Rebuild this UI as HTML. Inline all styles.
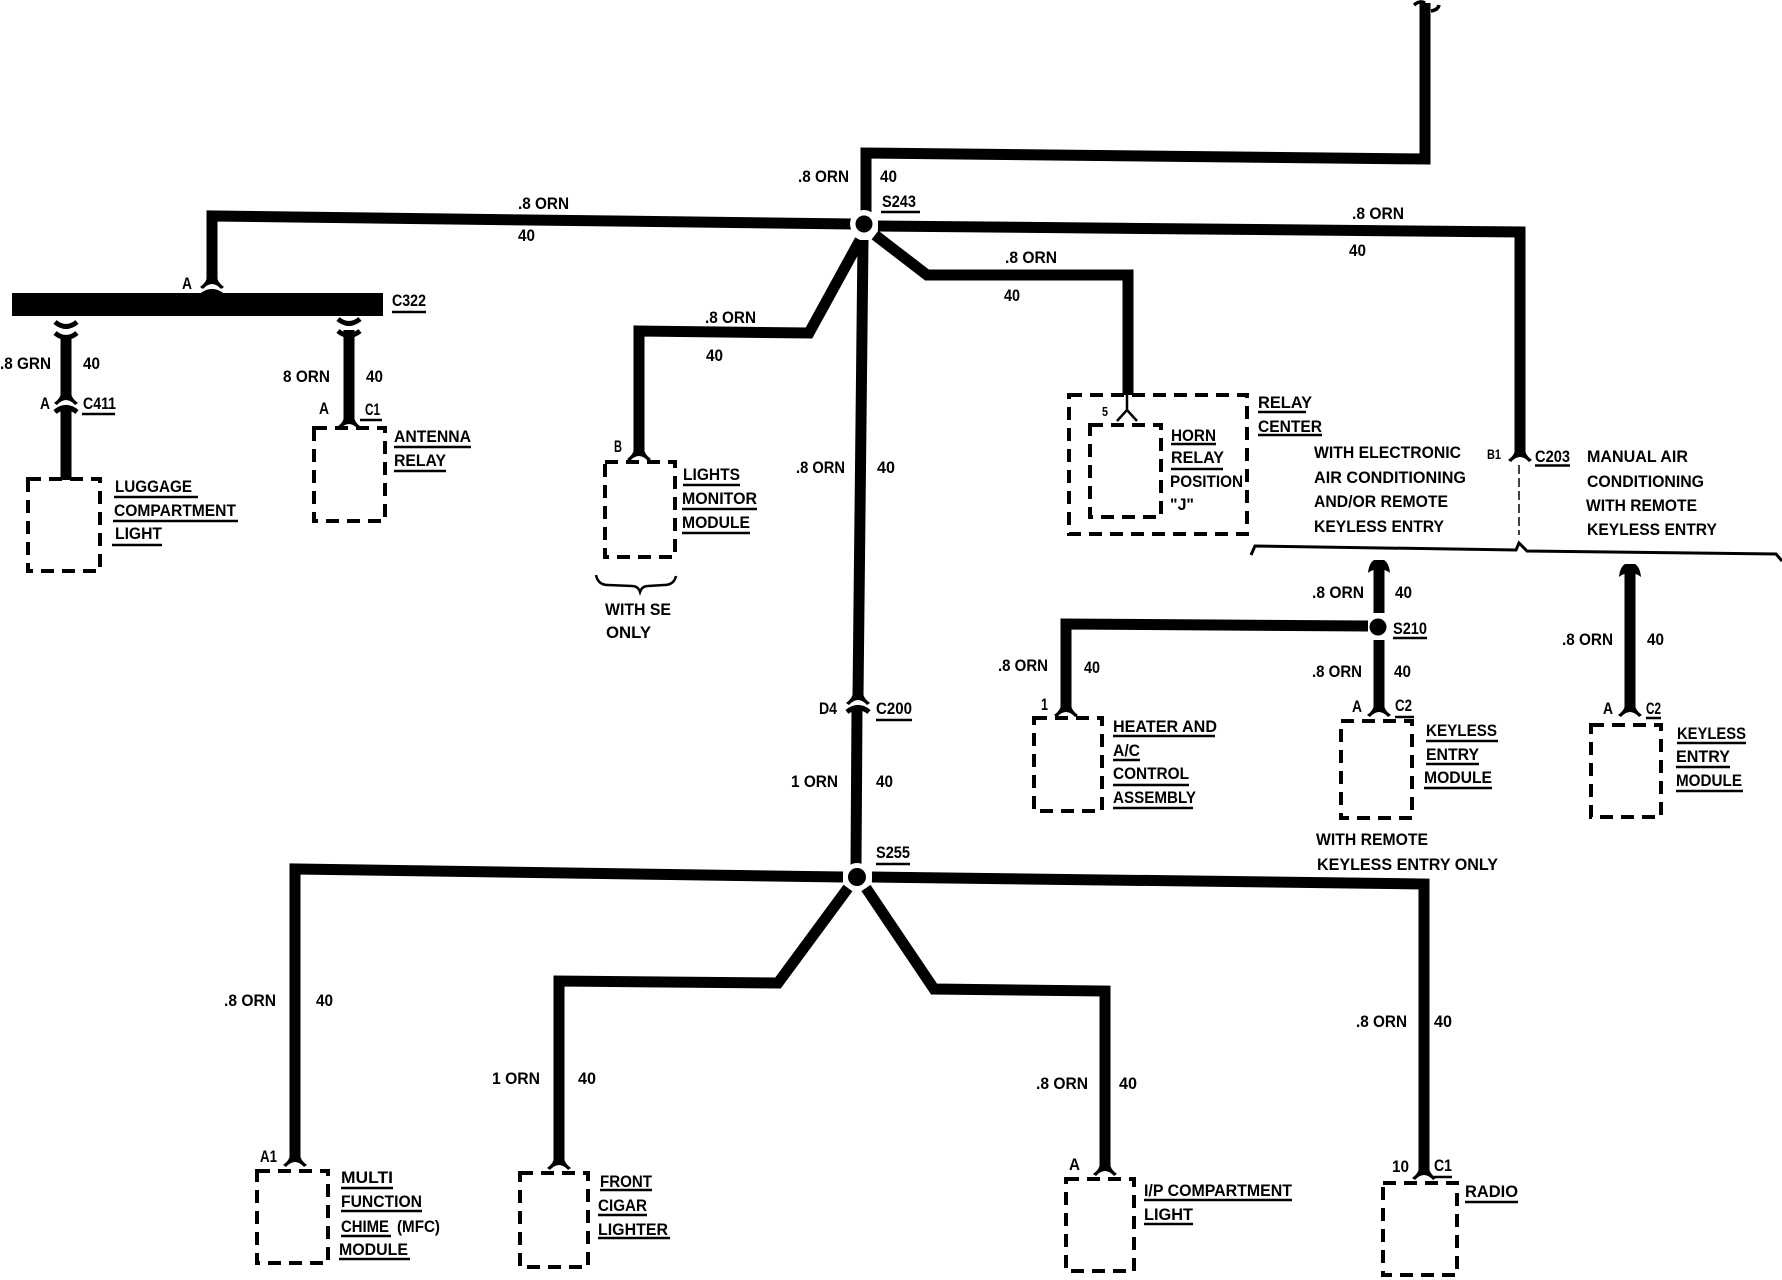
<!DOCTYPE html>
<html><head><meta charset="utf-8"><style>
html,body{margin:0;padding:0;background:#fff}
svg{display:block}
text{font-family:"Liberation Sans",sans-serif;font-weight:bold;font-size:17px;fill:#000}
.w{fill:none;stroke:#000;stroke-width:11;stroke-linejoin:miter}
.b{fill:none;stroke:#000;stroke-width:4;stroke-dasharray:13 8}
.u{fill:none;stroke:#000;stroke-width:2.5}
.a{fill:none;stroke:#000;stroke-width:5}
</style></head><body>
<svg width="1782" height="1280" viewBox="0 0 1782 1280" xmlns="http://www.w3.org/2000/svg">
<defs>
<path id="f" d="M-12 2Q-5-3-5-9L5-9Q5-3 12 2L9 4Q0-6-9 4Z"/>
<path id="c" d="M-11 13Q-10 3-5 0L5 0Q10 3 11 13Q6 9 0 9Q-6 9-11 13Z"/>
<path id="s" class="a" d="M-11 0Q0 9 11 0"/>
<path id="n" class="a" d="M-11 0Q0-9 11 0"/>
</defs>

<!-- wires -->
<path class="w" d="M1425 3L1425 159L866 153L866 212"/>
<path class="w" d="M853 224L212 216L212 279"/>
<path class="w" d="M878 226L1520 232L1520 452"/>
<path class="w" d="M875 235L927 275L1128 275L1128 395"/>
<path class="w" d="M860 240L809 333L639 331L639 452"/>
<path class="w" d="M863 240L858 696"/>
<path class="w" d="M857 708L856 866"/>
<path class="w" d="M843 877L295 869L295 1158"/>
<path class="w" d="M848 888L778 983L559 981L559 1161"/>
<path class="w" d="M866 888L934 989L1105 991L1105 1167"/>
<path class="w" d="M872 877L1424 884L1424 1171"/>
<path class="w" d="M66 335L66 395"/>
<path class="w" d="M66 407L66 480"/>
<path class="w" d="M349 330L349 420"/>
<path class="w" d="M1379 565L1379 613"/>
<path class="w" d="M1379 640L1379 708"/>
<path class="w" d="M1368 626L1066 624L1066 708"/>
<path class="w" d="M1630 570L1630 708"/>

<!-- C322 bar -->
<rect x="12" y="293" width="371" height="23"/>

<!-- junctions -->
<circle cx="864" cy="224" r="14" fill="#fff"/><circle cx="864" cy="224" r="8.5"/>
<circle cx="857" cy="877" r="14" fill="#fff"/><circle cx="857" cy="877" r="9"/>
<circle cx="1378" cy="627" r="8.5"/>

<!-- connector marks -->
<use href="#f" x="212" y="285"/><use href="#n" x="212" y="296"/>
<use href="#s" x="66" y="322"/><use href="#s" x="66" y="333"/>
<use href="#s" x="349" y="319"/><use href="#s" x="349" y="331"/>
<use href="#f" x="66" y="401"/><use href="#n" x="66" y="412"/>
<use href="#f" x="858" y="701"/><use href="#n" x="858" y="712"/>
<use href="#f" x="349" y="425"/>
<use href="#f" x="639" y="457"/>
<use href="#f" x="1520" y="458"/>
<use href="#f" x="1066" y="713"/>
<use href="#f" x="1379" y="713"/>
<use href="#f" x="1630" y="713"/>
<use href="#f" x="295" y="1163"/>
<use href="#f" x="559" y="1166"/>
<use href="#f" x="1105" y="1172"/>
<use href="#f" x="1424" y="1176"/>
<use href="#c" x="1379" y="560"/>
<use href="#c" x="1630" y="564"/>
<path d="M1414 5Q1420 0 1425 3M1431 11Q1438 10 1439 5" fill="none" stroke="#000" stroke-width="3.5"/>

<!-- horn thin connector -->
<path d="M1127 395L1127 412M1117 421L1127 410L1137 421" fill="none" stroke="#000" stroke-width="2.5"/>

<!-- dashed boxes -->
<rect class="b" x="28" y="479" width="72" height="92"/>
<rect class="b" x="314" y="428" width="71" height="93"/>
<rect class="b" x="605" y="462" width="70" height="95"/>
<rect class="b" x="1069" y="395" width="178" height="139"/>
<rect class="b" x="1090" y="425" width="71" height="92"/>
<rect class="b" x="1034" y="718" width="68" height="93"/>
<rect class="b" x="1341" y="721" width="71" height="97"/>
<rect class="b" x="1591" y="725" width="70" height="92"/>
<rect class="b" x="257" y="1171" width="71" height="92"/>
<rect class="b" x="520" y="1173" width="68" height="94"/>
<rect class="b" x="1066" y="1179" width="68" height="92"/>
<rect class="b" x="1383" y="1183" width="74" height="92"/>
<path d="M1519 465L1519 535" fill="none" stroke="#000" stroke-width="1.5" stroke-dasharray="9 4"/>

<!-- brackets -->
<path d="M1251 555L1255 546L1516 550L1519 543L1527 551L1776 554L1782 561" fill="none" stroke="#000" stroke-width="3"/>
<path d="M596 575Q598 585 608 585L632 586Q638 586 640 592Q642 586 648 586L664 585Q674 585 676 576" fill="none" stroke="#000" stroke-width="2.5"/>

<!-- underlines -->
<path class="u" d="M82 414H115M392 312H426M360 420H382M394 447H471M394 471H446M114 497H198M113 521H238M112 545H162M881 212H920M683 485H740M682 509H757M682 533H750M1258 412H1306M1258 435H1322M1171 444H1216M1171 469H1223M1535 465.500H1570M1393 638H1427M1113 736H1215M1113 760H1140M1113 785H1189M1113 808H1193M1395 717H1414M1426 741H1498M1426 764H1479M1424 788H1492M1646 718H1661M1677 743H1746M1676 767H1730M1676 791H1743M876 720H912M876 864H910M341 1188H393M341 1211H422M341 1236H391M339 1259H410M600 1190H652M598 1215H647M598 1238H670M1144 1200H1292M1144 1224H1193M1434 1177H1452M1465 1202H1518"/>

<!-- text -->
<text x="0" y="369" textLength="51" lengthAdjust="spacingAndGlyphs">.8 GRN</text>
<text x="83" y="369" textLength="17" lengthAdjust="spacingAndGlyphs">40</text>
<text x="283" y="382" textLength="47" lengthAdjust="spacingAndGlyphs">8 ORN</text>
<text x="366" y="382" textLength="17" lengthAdjust="spacingAndGlyphs">40</text>
<text x="40" y="409" textLength="10" lengthAdjust="spacingAndGlyphs">A</text>
<text x="83" y="409" textLength="33" lengthAdjust="spacingAndGlyphs">C411</text>
<text x="182" y="289" textLength="10" lengthAdjust="spacingAndGlyphs">A</text>
<text x="392" y="306" textLength="34" lengthAdjust="spacingAndGlyphs">C322</text>
<text x="319" y="414" textLength="10" lengthAdjust="spacingAndGlyphs">A</text>
<text x="365" y="415" textLength="15" lengthAdjust="spacingAndGlyphs">C1</text>
<text x="394" y="442" textLength="77" lengthAdjust="spacingAndGlyphs">ANTENNA</text>
<text x="394" y="466" textLength="52" lengthAdjust="spacingAndGlyphs">RELAY</text>
<text x="115" y="492" textLength="77" lengthAdjust="spacingAndGlyphs">LUGGAGE</text>
<text x="114" y="516" textLength="122" lengthAdjust="spacingAndGlyphs">COMPARTMENT</text>
<text x="115" y="539" textLength="47" lengthAdjust="spacingAndGlyphs">LIGHT</text>
<text x="518" y="209" textLength="51" lengthAdjust="spacingAndGlyphs">.8 ORN</text>
<text x="518" y="241" textLength="17" lengthAdjust="spacingAndGlyphs">40</text>
<text x="798" y="182" textLength="51" lengthAdjust="spacingAndGlyphs">.8 ORN</text>
<text x="880" y="182" textLength="17" lengthAdjust="spacingAndGlyphs">40</text>
<text x="882" y="207" textLength="34" lengthAdjust="spacingAndGlyphs">S243</text>
<text x="1005" y="263" textLength="52" lengthAdjust="spacingAndGlyphs">.8 ORN</text>
<text x="1004" y="301" textLength="16" lengthAdjust="spacingAndGlyphs">40</text>
<text x="1352" y="219" textLength="52" lengthAdjust="spacingAndGlyphs">.8 ORN</text>
<text x="1349" y="256" textLength="17" lengthAdjust="spacingAndGlyphs">40</text>
<text x="705" y="323" textLength="51" lengthAdjust="spacingAndGlyphs">.8 ORN</text>
<text x="706" y="361" textLength="17" lengthAdjust="spacingAndGlyphs">40</text>
<text x="796" y="473" textLength="49" lengthAdjust="spacingAndGlyphs">.8 ORN</text>
<text x="877" y="473" textLength="18" lengthAdjust="spacingAndGlyphs">40</text>
<text x="819" y="714" textLength="18" lengthAdjust="spacingAndGlyphs">D4</text>
<text x="876" y="714" textLength="36" lengthAdjust="spacingAndGlyphs">C200</text>
<text x="791" y="787" textLength="47" lengthAdjust="spacingAndGlyphs">1 ORN</text>
<text x="876" y="787" textLength="17" lengthAdjust="spacingAndGlyphs">40</text>
<text x="876" y="858" textLength="34" lengthAdjust="spacingAndGlyphs">S255</text>
<text x="614" y="452" textLength="8" lengthAdjust="spacingAndGlyphs">B</text>
<text x="683" y="480" textLength="57" lengthAdjust="spacingAndGlyphs">LIGHTS</text>
<text x="682" y="504" textLength="75" lengthAdjust="spacingAndGlyphs">MONITOR</text>
<text x="682" y="528" textLength="68" lengthAdjust="spacingAndGlyphs">MODULE</text>
<text x="605" y="615" textLength="66" lengthAdjust="spacingAndGlyphs">WITH SE</text>
<text x="606" y="638" textLength="45" lengthAdjust="spacingAndGlyphs">ONLY</text>
<text x="1102" y="416" textLength="6" lengthAdjust="spacingAndGlyphs" style="font-size:13px">5</text>
<text x="1258" y="408" textLength="54" lengthAdjust="spacingAndGlyphs">RELAY</text>
<text x="1258" y="432" textLength="64" lengthAdjust="spacingAndGlyphs">CENTER</text>
<text x="1171" y="441" textLength="45" lengthAdjust="spacingAndGlyphs">HORN</text>
<text x="1171" y="463" textLength="53" lengthAdjust="spacingAndGlyphs">RELAY</text>
<text x="1170" y="487" textLength="73" lengthAdjust="spacingAndGlyphs">POSITION</text>
<text x="1170" y="510" textLength="24" lengthAdjust="spacingAndGlyphs">"J"</text>
<text x="1314" y="458" textLength="147" lengthAdjust="spacingAndGlyphs">WITH ELECTRONIC</text>
<text x="1314" y="483" textLength="152" lengthAdjust="spacingAndGlyphs">AIR CONDITIONING</text>
<text x="1314" y="507" textLength="134" lengthAdjust="spacingAndGlyphs">AND/OR REMOTE</text>
<text x="1314" y="532" textLength="130" lengthAdjust="spacingAndGlyphs">KEYLESS ENTRY</text>
<text x="1487" y="459" textLength="14" lengthAdjust="spacingAndGlyphs" style="font-size:14px">B1</text>
<text x="1535" y="462" textLength="35" lengthAdjust="spacingAndGlyphs">C203</text>
<text x="1587" y="462" textLength="101" lengthAdjust="spacingAndGlyphs">MANUAL AIR</text>
<text x="1587" y="487" textLength="117" lengthAdjust="spacingAndGlyphs">CONDITIONING</text>
<text x="1586" y="511" textLength="111" lengthAdjust="spacingAndGlyphs">WITH REMOTE</text>
<text x="1587" y="535" textLength="130" lengthAdjust="spacingAndGlyphs">KEYLESS ENTRY</text>
<text x="1312" y="598" textLength="52" lengthAdjust="spacingAndGlyphs">.8 ORN</text>
<text x="1395" y="598" textLength="17" lengthAdjust="spacingAndGlyphs">40</text>
<text x="1393" y="634" textLength="34" lengthAdjust="spacingAndGlyphs">S210</text>
<text x="1312" y="677" textLength="50" lengthAdjust="spacingAndGlyphs">.8 ORN</text>
<text x="1394" y="677" textLength="17" lengthAdjust="spacingAndGlyphs">40</text>
<text x="998" y="671" textLength="50" lengthAdjust="spacingAndGlyphs">.8 ORN</text>
<text x="1084" y="673" textLength="16" lengthAdjust="spacingAndGlyphs">40</text>
<text x="1041" y="710" textLength="7" lengthAdjust="spacingAndGlyphs">1</text>
<text x="1113" y="732" textLength="104" lengthAdjust="spacingAndGlyphs">HEATER AND</text>
<text x="1113" y="756" textLength="27" lengthAdjust="spacingAndGlyphs">A/C</text>
<text x="1113" y="779" textLength="76" lengthAdjust="spacingAndGlyphs">CONTROL</text>
<text x="1113" y="803" textLength="83" lengthAdjust="spacingAndGlyphs">ASSEMBLY</text>
<text x="1352" y="712" textLength="10" lengthAdjust="spacingAndGlyphs">A</text>
<text x="1395" y="711" textLength="17" lengthAdjust="spacingAndGlyphs">C2</text>
<text x="1426" y="736" textLength="71" lengthAdjust="spacingAndGlyphs">KEYLESS</text>
<text x="1426" y="760" textLength="53" lengthAdjust="spacingAndGlyphs">ENTRY</text>
<text x="1424" y="783" textLength="68" lengthAdjust="spacingAndGlyphs">MODULE</text>
<text x="1316" y="845" textLength="112" lengthAdjust="spacingAndGlyphs">WITH REMOTE</text>
<text x="1317" y="870" textLength="181" lengthAdjust="spacingAndGlyphs">KEYLESS ENTRY ONLY</text>
<text x="1562" y="645" textLength="51" lengthAdjust="spacingAndGlyphs">.8 ORN</text>
<text x="1647" y="645" textLength="17" lengthAdjust="spacingAndGlyphs">40</text>
<text x="1603" y="714" textLength="10" lengthAdjust="spacingAndGlyphs">A</text>
<text x="1646" y="714" textLength="15" lengthAdjust="spacingAndGlyphs">C2</text>
<text x="1677" y="739" textLength="69" lengthAdjust="spacingAndGlyphs">KEYLESS</text>
<text x="1676" y="762" textLength="54" lengthAdjust="spacingAndGlyphs">ENTRY</text>
<text x="1676" y="786" textLength="66" lengthAdjust="spacingAndGlyphs">MODULE</text>
<text x="224" y="1006" textLength="52" lengthAdjust="spacingAndGlyphs">.8 ORN</text>
<text x="316" y="1006" textLength="17" lengthAdjust="spacingAndGlyphs">40</text>
<text x="260" y="1162" textLength="17" lengthAdjust="spacingAndGlyphs">A1</text>
<text x="341" y="1183" textLength="52" lengthAdjust="spacingAndGlyphs">MULTI</text>
<text x="341" y="1207" textLength="81" lengthAdjust="spacingAndGlyphs">FUNCTION</text>
<text x="341" y="1232" textLength="48" lengthAdjust="spacingAndGlyphs">CHIME</text>
<text x="397" y="1232" textLength="43" lengthAdjust="spacingAndGlyphs">(MFC)</text>
<text x="339" y="1255" textLength="69" lengthAdjust="spacingAndGlyphs">MODULE</text>
<text x="492" y="1084" textLength="48" lengthAdjust="spacingAndGlyphs">1 ORN</text>
<text x="578" y="1084" textLength="18" lengthAdjust="spacingAndGlyphs">40</text>
<text x="600" y="1187" textLength="52" lengthAdjust="spacingAndGlyphs">FRONT</text>
<text x="598" y="1211" textLength="49" lengthAdjust="spacingAndGlyphs">CIGAR</text>
<text x="598" y="1235" textLength="70" lengthAdjust="spacingAndGlyphs">LIGHTER</text>
<text x="1036" y="1089" textLength="52" lengthAdjust="spacingAndGlyphs">.8 ORN</text>
<text x="1119" y="1089" textLength="18" lengthAdjust="spacingAndGlyphs">40</text>
<text x="1069" y="1170" textLength="11" lengthAdjust="spacingAndGlyphs">A</text>
<text x="1144" y="1196" textLength="148" lengthAdjust="spacingAndGlyphs">I/P COMPARTMENT</text>
<text x="1144" y="1220" textLength="49" lengthAdjust="spacingAndGlyphs">LIGHT</text>
<text x="1356" y="1027" textLength="51" lengthAdjust="spacingAndGlyphs">.8 ORN</text>
<text x="1434" y="1027" textLength="18" lengthAdjust="spacingAndGlyphs">40</text>
<text x="1392" y="1172" textLength="17" lengthAdjust="spacingAndGlyphs">10</text>
<text x="1434" y="1171" textLength="18" lengthAdjust="spacingAndGlyphs">C1</text>
<text x="1465" y="1197" textLength="53" lengthAdjust="spacingAndGlyphs">RADIO</text>
</svg>
</body></html>
